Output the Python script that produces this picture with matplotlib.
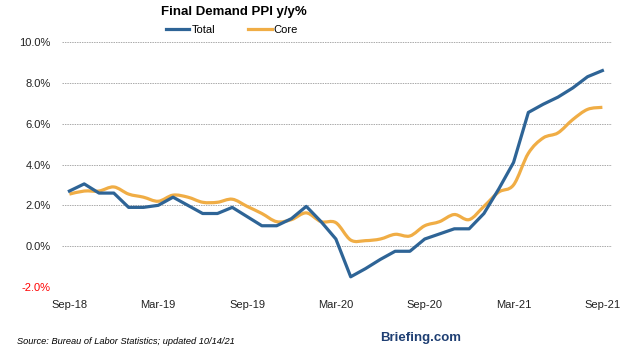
import numpy as np
import matplotlib
matplotlib.use("Agg")
import matplotlib.pyplot as plt
from matplotlib.path import Path
from matplotlib.patches import PathPatch
from matplotlib.lines import Line2D

# データ (Sep-18 .. Sep-21, 月次)
months = ["Sep-18", "Oct-18", "Nov-18", "Dec-18", "Jan-19", "Feb-19", "Mar-19", "Apr-19",
          "May-19", "Jun-19", "Jul-19", "Aug-19", "Sep-19", "Oct-19", "Nov-19", "Dec-19",
          "Jan-20", "Feb-20", "Mar-20", "Apr-20", "May-20", "Jun-20", "Jul-20", "Aug-20",
          "Sep-20", "Oct-20", "Nov-20", "Dec-20", "Jan-21", "Feb-21", "Mar-21", "Apr-21",
          "May-21", "Jun-21", "Jul-21", "Aug-21", "Sep-21"]
total = [2.7, 3.05, 2.6, 2.6, 1.9, 1.9, 2.0, 2.4, 2.0, 1.6, 1.6, 1.9, 1.45, 1.0, 1.0, 1.35,
         1.95, 1.2, 0.35, -1.5, -1.1, -0.65, -0.25, -0.25, 0.35, 0.6, 0.85, 0.85, 1.6, 2.8,
         4.1, 6.55, 6.95, 7.3, 7.75, 8.3, 8.6]
core = [2.55, 2.7, 2.7, 2.9, 2.55, 2.4, 2.2, 2.5, 2.4, 2.15, 2.15, 2.3, 1.95, 1.6, 1.2, 1.3,
        1.63, 1.2, 1.15, 0.3, 0.27, 0.35, 0.58, 0.5, 1.0, 1.2, 1.55, 1.3, 1.95, 2.65,
        3.0, 4.55, 5.3, 5.55, 6.2, 6.7, 6.8]
tick_labels = ["Sep-18", "Mar-19", "Sep-19", "Mar-20", "Sep-20", "Mar-21", "Sep-21"]
y_ticks = [-2, 0, 2, 4, 6, 8, 10]

BLUE = "#2e6496"
ORANGE = "#f0ad45"
plt.rcParams["font.family"] = ["Liberation Sans", "DejaVu Sans"]


# Excel風のなめらかな線 (Catmull-Rom -> ベジェ)
def smooth_path(xs, ys):
    pts = np.column_stack([xs, ys]).astype(float)
    verts = [pts[0]]
    codes = [Path.MOVETO]
    n = len(pts)
    for i in range(n - 1):
        p0 = pts[max(i - 1, 0)]
        p1 = pts[i]
        p2 = pts[i + 1]
        p3 = pts[min(i + 2, n - 1)]
        verts += [p1 + (p2 - p0) / 6, p2 - (p3 - p1) / 6, p2]
        codes += [Path.CURVE4] * 3
    return Path(verts, codes)


fig = plt.figure(figsize=(6.24, 3.55), dpi=100)
ax = fig.add_axes([62 / 624, 1 - 287 / 355, 550 / 624, 245 / 355])

x = np.arange(len(months))
ax.plot(x, total, color=BLUE, lw=2.3, solid_joinstyle="round", zorder=3)
ax.add_patch(PathPatch(smooth_path(x, core), fill=False, edgecolor=ORANGE, lw=2.3,
                       joinstyle="round", zorder=2))

ax.set_xlim(-0.5, 36.65)
ax.set_ylim(-2, 10)
ax.set_yticks(y_ticks)
ax.set_yticklabels([f"{v:.1f}%" for v in y_ticks], fontsize=8, color="#222222")
ax.get_yticklabels()[0].set_color("red")
ax.set_xticks([months.index(m) for m in tick_labels])
ax.set_xticklabels(tick_labels, fontsize=8, color="#222222")
ax.tick_params(length=0, pad=8)
ax.tick_params(axis="x", pad=9)
ax.grid(axis="y", color="#aaaaaa", ls=(0, (1.5, 1)), lw=0.7)
for s in ax.spines.values():
    s.set_visible(False)

fig.text(234 / 624, 1 - 12 / 355, "Final Demand PPI y/y%", ha="center", va="center",
         fontsize=9.5, fontweight="bold")
handles = [Line2D([], [], color=BLUE, lw=2.3), Line2D([], [], color=ORANGE, lw=2.3)]
fig.legend(handles, ["Total", "Core"], loc="center", bbox_to_anchor=(232 / 624, 1 - 30 / 355),
           ncol=2, frameon=False, fontsize=8, handlelength=2.1, handletextpad=0.2,
           columnspacing=3.0)

fig.text(17 / 624, 1 - 341 / 355, "Source: Bureau of Labor Statistics; updated 10/14/21",
         fontsize=6.7, style="italic", va="center")
fig.text(380 / 624, 1 - 338 / 355, "Briefing.com", fontsize=9.5, fontweight="bold",
         color="#1f3f73", va="center")

fig.savefig("out.png", dpi=100)
